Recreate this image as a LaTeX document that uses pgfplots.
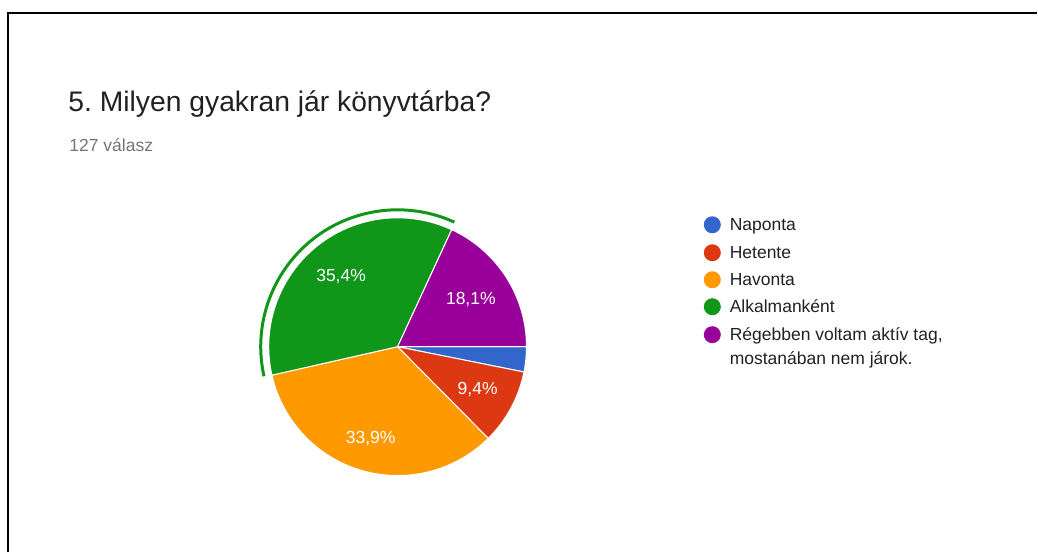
\documentclass[border=0pt]{standalone}
\usepackage{pgfplots}
\pgfplotsset{compat=1.18}
\usepackage{fontspec}
\setmainfont{Liberation Sans}
\definecolor{gblue}{HTML}{3366CC}
\definecolor{gred}{HTML}{DC3912}
\definecolor{gorange}{HTML}{FF9900}
\definecolor{ggreen}{HTML}{109618}
\definecolor{gpurple}{HTML}{990099}
\definecolor{txt}{HTML}{212121}
\definecolor{sub}{HTML}{757575}

% answers per category, 127 in all
\def\nNap{4}
\def\nHet{12}
\def\nHav{43}
\def\nAlk{45}
\def\nReg{23}
\def\total{127}

% slice borders, clockwise from 3 o'clock
\pgfmathsetmacro\aA{-360*\nNap/\total}
\pgfmathsetmacro\aB{\aA-360*\nHet/\total}
\pgfmathsetmacro\aC{\aB-360*\nHav/\total}
\pgfmathsetmacro\aD{\aC-360*\nAlk/\total}
\pgfmathsetmacro\mB{(\aA+\aB)/2}
\pgfmathsetmacro\mC{(\aB+\aC)/2}
\pgfmathsetmacro\mD{(\aC+\aD)/2}
\pgfmathsetmacro\mE{(\aD-360)/2}

\begin{document}
\frenchspacing
\begin{tikzpicture}
\begin{axis}[
    width=1038pt, height=553pt, scale only axis,
    xmin=0, xmax=1038, ymin=0, ymax=553,
    y dir=reverse, hide axis, clip=false,
]
\path (axis cs:0,0) (axis cs:1038,553);
\draw[line width=2pt] (axis cs:8,553) -- (axis cs:8,13) -- (axis cs:1038,13);

\node[anchor=base west, txt, font=\fontsize{28.3}{32}\selectfont] at (axis cs:65,112) {5. Milyen gyakran jár könyvtárba?};
\node[anchor=base west, sub, font=\fontsize{17.5}{20}\selectfont] at (axis cs:66,152) {127 válasz};

% pie
\fill[gblue, draw=white, line width=1pt] (axis cs:398,347) -- ++(0:129pt) arc[start angle=0, end angle=\aA, radius=129pt] -- cycle;
\fill[gred, draw=white, line width=1pt] (axis cs:398,347) -- ++(\aA:129pt) arc[start angle=\aA, end angle=\aB, radius=129pt] -- cycle;
\fill[gorange, draw=white, line width=1pt] (axis cs:398,347) -- ++(\aB:129pt) arc[start angle=\aB, end angle=\aC, radius=129pt] -- cycle;
\fill[ggreen, draw=white, line width=1pt] (axis cs:398,347) -- ++(\aC:129pt) arc[start angle=\aC, end angle=\aD, radius=129pt] -- cycle;
\fill[gpurple, draw=white, line width=1pt] (axis cs:398,347) -- ++(\aD:129pt) arc[start angle=\aD, end angle=-360, radius=129pt] -- cycle;
% highlight ring of the selected slice
\draw[ggreen, line width=3pt] ([shift={(-167.5:137pt)}]axis cs:398,347) arc[start angle=-167.5, end angle=-294.5, radius=137pt];

\tikzset{pct/.style={white, font=\fontsize{17.5}{20}\selectfont}}
\node[pct] at ([shift={(\mB:91pt)}]axis cs:398,347) {9,4\%};
\node[pct] at ([shift={(\mC:96pt)}]axis cs:398,347) {33,9\%};
\node[pct] at ([shift={(\mD:90pt)}]axis cs:398,347) {35,4\%};
\node[pct] at ([shift={(\mE:87pt)}]axis cs:398,347) {18,1\%};

% legend
\tikzset{leg/.style={anchor=base west, txt, font=\fontsize{17.5}{20}\selectfont}}
\fill[gblue] (axis cs:713,225) circle[radius=8.5pt];
\fill[gred] (axis cs:713,253) circle[radius=8.5pt];
\fill[gorange] (axis cs:713,280) circle[radius=8.5pt];
\fill[ggreen] (axis cs:713,307) circle[radius=8.5pt];
\fill[gpurple] (axis cs:713,335) circle[radius=8.5pt];
\node[leg] at (axis cs:727,231) {Naponta};
\node[leg] at (axis cs:727,259) {Hetente};
\node[leg] at (axis cs:727,286) {Havonta};
\node[leg] at (axis cs:727,313) {Alkalmanként};
\node[leg] at (axis cs:727,341) {Régebben voltam aktív tag,};
\node[leg] at (axis cs:727,365) {mostanában nem járok.};
\end{axis}
\end{tikzpicture}
\end{document}
